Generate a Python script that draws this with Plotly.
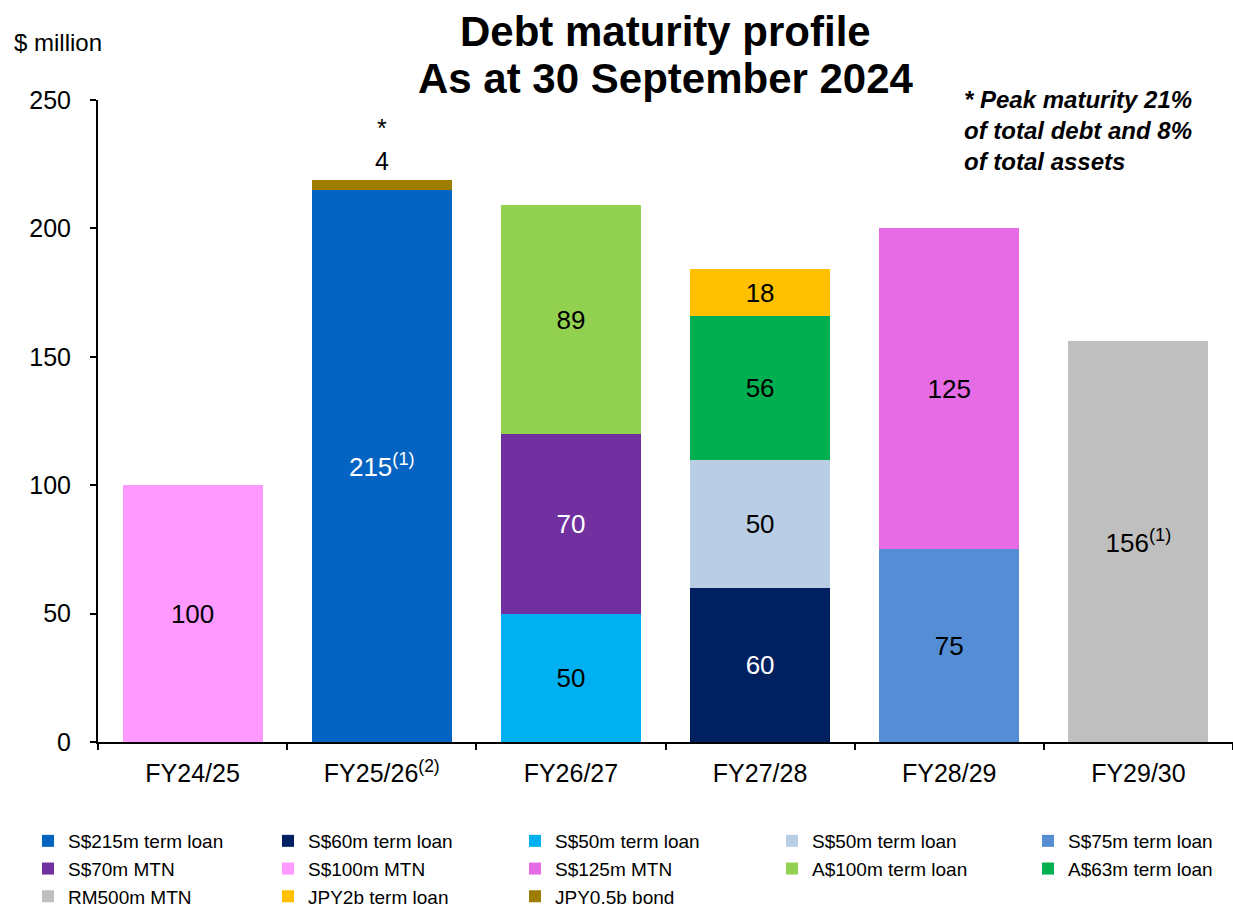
import plotly.graph_objects as go

categories = ["FY24/25", "FY25/26<sup>(2)</sup>", "FY26/27", "FY27/28", "FY28/29", "FY29/30"]

# One series per facility
series_names = [
    "S$215m term loan", "S$60m term loan", "S$50m term loan", "S$50m term loan",
    "S$75m term loan", "S$70m MTN", "S$100m MTN", "S$125m MTN",
    "A$100m term loan", "A$63m term loan", "RM500m MTN", "JPY2b term loan", "JPY0.5b bond",
]
series_category = [1, 3, 2, 3, 4, 2, 0, 4, 2, 3, 5, 3, 1]
series_values = [215, 60, 50, 50, 75, 70, 100, 125, 89, 56, 156, 18, 4]
series_colors = [
    "#0563C1", "#002060", "#00B0F0", "#B9CDE5", "#558ED5", "#7030A0", "#FF99FF",
    "#E66CE6", "#92D050", "#00B050", "#BFBFBF", "#FFC000", "#9C7D00",
]
label_colors = [
    "white", "white", "black", "black", "black", "white", "black",
    "black", "black", "black", "black", "black", None,
]
label_notes = ["(1)", "", "", "", "", "", "", "", "", "", "(1)", "", ""]

FONT = "Arial, Liberation Sans, sans-serif"

# Legend laid out as a 5-column grid (row-major order), one legend per column
N_COLS = 5
legend_ids = ["legend", "legend2", "legend3", "legend4", "legend5"]
legend_left_px = [28, 268, 515, 772, 1028]

fig = go.Figure()
for i, (name, ci, val, col, lc, note) in enumerate(zip(
        series_names, series_category, series_values, series_colors, label_colors, label_notes)):
    bar = dict(
        name=name, x=[categories[ci]], y=[val],
        marker=dict(color=col, line=dict(width=0)),
        hoverinfo="skip", legend=legend_ids[i % N_COLS],
    )
    if lc is not None:
        bar.update(
            text=[f"{val}" + (f"<sup>{note}</sup>" if note else "")],
            textposition="inside", insidetextanchor="middle",
            textangle=0, constraintext="none",
            textfont=dict(family=FONT, size=26, color=lc),
        )
    fig.add_trace(go.Bar(**bar))

# Label for the small top segment, placed above the FY25/26 stack
top_idx = len(series_names) - 1
ci = series_category[top_idx]
stack_total = sum(v for v, c in zip(series_values, series_category) if c == ci)
fig.add_annotation(
    x=categories[ci], y=stack_total, xref="x", yref="y",
    text=f"*<br>{series_values[top_idx]}", showarrow=False, yanchor="bottom",
    font=dict(family=FONT, size=25, color="black"), yshift=3,
)

PLOT_TOP, PLOT_BOTTOM = 100, 742
H = PLOT_BOTTOM - PLOT_TOP
L, W = 98, 1233 - 98


def py(px):
    return (PLOT_BOTTOM - px) / H


def pxx(px):
    return (px - L) / W


for line, yc in (("Debt maturity profile", 32), ("As at 30 September 2024", 78)):
    fig.add_annotation(
        x=0.5, y=py(yc), xref="paper", yref="paper", xanchor="center", yanchor="middle",
        text=f"<b>{line}</b>", showarrow=False,
        font=dict(family=FONT, size=42, color="black"),
    )
fig.add_annotation(
    x=pxx(12), y=py(42), xref="paper", yref="paper", xanchor="left", yanchor="middle",
    text="$ million", showarrow=False, font=dict(family=FONT, size=24, color="black"),
)
fig.add_annotation(
    x=pxx(962), y=py(84), xref="paper", yref="paper", xanchor="left", yanchor="top",
    align="left",
    text="<b><i>* Peak maturity 21%<br>of total debt and 8%<br>of total assets</i></b>",
    showarrow=False, font=dict(family=FONT, size=24, color="black"),
)

legend_layout = {}
for lid, lx in zip(legend_ids, legend_left_px):
    legend_layout[lid] = dict(
        orientation="v", x=pxx(lx), y=py(822), xref="paper", yref="paper",
        xanchor="left", yanchor="top", itemwidth=30,
        font=dict(family=FONT, size=19, color="black"),
        traceorder="normal", itemclick=False, itemdoubleclick=False,
        bgcolor="rgba(0,0,0,0)", borderwidth=0,
    )

fig.update_layout(
    barmode="stack", bargap=0.26,
    width=1233, height=907,
    margin=dict(l=L, r=0, t=PLOT_TOP, b=907 - PLOT_BOTTOM, autoexpand=False),
    paper_bgcolor="white", plot_bgcolor="white",
    font=dict(family=FONT, size=20, color="black"),
    showlegend=True,
    **legend_layout,
)
fig.update_xaxes(
    type="category", categoryorder="array", categoryarray=categories,
    showline=True, linecolor="black", linewidth=2,
    ticks="outside", tickson="boundaries", ticklen=6, tickcolor="black", tickwidth=2,
    tickfont=dict(family=FONT, size=25, color="black"), showgrid=False,
    ticklabelstandoff=8,
)
fig.update_yaxes(
    range=[0, 250], tickvals=[0, 50, 100, 150, 200, 250], showline=True,
    linecolor="black", linewidth=2, ticks="outside", ticklen=6, tickcolor="black",
    tickwidth=2, tickfont=dict(family=FONT, size=25, color="black"), showgrid=False,
    zeroline=False, ticklabelstandoff=14,
)

fig.write_html("out.html")
